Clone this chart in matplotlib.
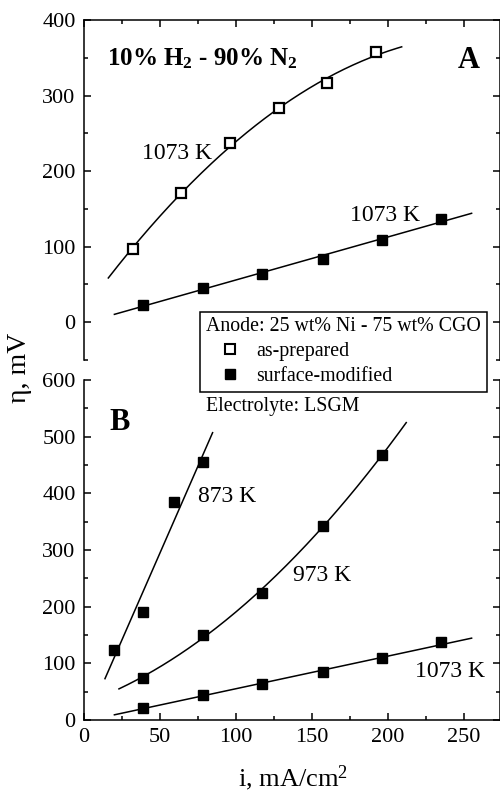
import numpy as np
import matplotlib
matplotlib.use("Agg")
import matplotlib.pyplot as plt
from matplotlib.lines import Line2D

plt.rcParams['font.family'] = ['Liberation Serif', 'DejaVu Serif']
plt.rcParams['mathtext.fontset'] = 'custom'
plt.rcParams['mathtext.rm'] = 'Liberation Serif'
plt.rcParams['mathtext.bf'] = 'Liberation Serif:bold'
plt.rcParams['mathtext.it'] = 'Liberation Serif:italic'

# ---- data ----
# Panel A (1073 K, 10% H2 - 90% N2)
a_prep_i = [32, 64, 96, 128, 160, 192]
a_prep_eta = [97, 171, 237, 283, 316, 357]
a_mod_i = [39, 78, 117, 157, 196, 235]
a_mod_eta = [23, 45, 64, 84, 109, 137]
# Panel B (surface-modified)
b873_i = [20, 39, 59, 78]
b873_eta = [124, 191, 385, 455]
b973_i = [39, 78, 117, 157, 196]
b973_eta = [75, 150, 225, 343, 467]
b1073_i = [39, 78, 117, 157, 196, 235]
b1073_eta = [22, 44, 63, 84, 109, 137]

W, H = 500, 793
fig = plt.figure(figsize=(W / 100, H / 100), dpi=100)
left = 84 / W
width = 1.0 - left
axA = fig.add_axes([left, (H - 360) / H, width, 340 / H])
axB = fig.add_axes([left, (H - 720) / H, width, 340 / H])

XMAX = 416 / 1.52
lw_sp = 1.1
for ax in (axA, axB):
    ax.set_xlim(0, XMAX)
    for s in ax.spines.values():
        s.set_linewidth(lw_sp)
    ax.tick_params(which='both', direction='in', width=lw_sp, labelsize=16, pad=6)
    ax.tick_params(which='major', length=5)
    ax.tick_params(which='minor', length=3)
    ax.set_xticks(np.arange(0, 251, 50))
    ax.set_xticks(np.arange(25, 275, 50), minor=True)

axA.set_ylim(-50, 400)
axA.set_yticks([0, 100, 200, 300, 400])
axA.set_yticks([-50, 50, 150, 250, 350], minor=True)
axA.spines['bottom'].set_visible(False)
axA.tick_params(which='both', top=True, bottom=False, labelbottom=False,
                right=True, left=True)

axB.set_ylim(0, 600)
axB.set_yticks(np.arange(0, 601, 100))
axB.set_yticks(np.arange(50, 600, 100), minor=True)
axB.spines['top'].set_visible(False)
axB.tick_params(which='both', top=False, bottom=True, right=True, left=True)

mk = dict(marker='s', ms=7.5, ls='none', color='black', zorder=3)
lkw = dict(color='black', lw=1.1, zorder=2)

def fit_curve(ax, xs, ys, deg, x0, x1):
    p = np.polyfit(xs, ys, deg)
    xx = np.linspace(x0, x1, 200)
    ax.plot(xx, np.polyval(p, xx), **lkw)

# Panel A
fit_curve(axA, a_prep_i, a_prep_eta, 2, 16, 209)
fit_curve(axA, a_mod_i, a_mod_eta, 1, 20, 255)
axA.plot(a_prep_i, a_prep_eta, mfc='white', mew=1.6, **mk)
axA.plot(a_mod_i, a_mod_eta, **mk)

# Panel B
fit_curve(axB, b873_i, b873_eta, 1, 13.8, 84.6)
fit_curve(axB, b973_i, b973_eta, 2, 23, 212)
fit_curve(axB, b1073_i, b1073_eta, 1, 20, 255)
axB.plot(b873_i, b873_eta, **mk)
axB.plot(b973_i, b973_eta, **mk)
axB.plot(b1073_i, b1073_eta, **mk)

# annotations
axA.text(15, 340, r'10% H$_\mathbf{2}$ - 90% N$_\mathbf{2}$', fontsize=18,
         fontweight='bold', va='baseline', ha='left')
axA.text(260.5, 336, 'A', fontsize=22, fontweight='bold', va='baseline', ha='right')
axA.text(38, 216, '1073 K', fontsize=17, va='baseline', ha='left')
axA.text(175, 134, '1073 K', fontsize=17, va='baseline', ha='left')

axB.text(17, 512, 'B', fontsize=22, fontweight='bold', va='baseline', ha='left')
axB.text(75, 385, '873 K', fontsize=17, va='baseline', ha='left')
axB.text(137.5, 245, '973 K', fontsize=17, va='baseline', ha='left')
axB.text(217.8, 76.5, '1073 K', fontsize=17, va='baseline', ha='left')
axB.text(80.3, 545.7, 'Electrolyte: LSGM', fontsize=14.3, va='baseline', ha='left')

# legend
handles = [
    Line2D([], [], marker='s', ms=6.5, ls='none', color='black', mfc='white', mew=1.5),
    Line2D([], [], marker='s', ms=6.5, ls='none', color='black'),
]
leg = fig.legend(handles, ['as-prepared', 'surface-modified'],
                 title='Anode: 25 wt% Ni - 75 wt% CGO',
                 loc='upper left', bbox_to_anchor=(200 / W, 1 - 311.5 / H),
                 fontsize=14.3, title_fontsize=14.3, alignment='left',
                 fancybox=False, framealpha=1, edgecolor='black',
                 borderpad=0.3, labelspacing=0.28, handlelength=2.4,
                 handletextpad=0.15, borderaxespad=0, handleheight=0.7)
leg.get_frame().set_linewidth(1.1)

fig.text(20 / W, 1 - 368 / H, 'η, mV', rotation=90, fontsize=20,
         ha='center', va='center')
fig.text(293 / W, 1 - 786 / H, r'i, mA/cm$^2$', fontsize=19, ha='center', va='baseline')

fig.savefig('out.png', dpi=100)
